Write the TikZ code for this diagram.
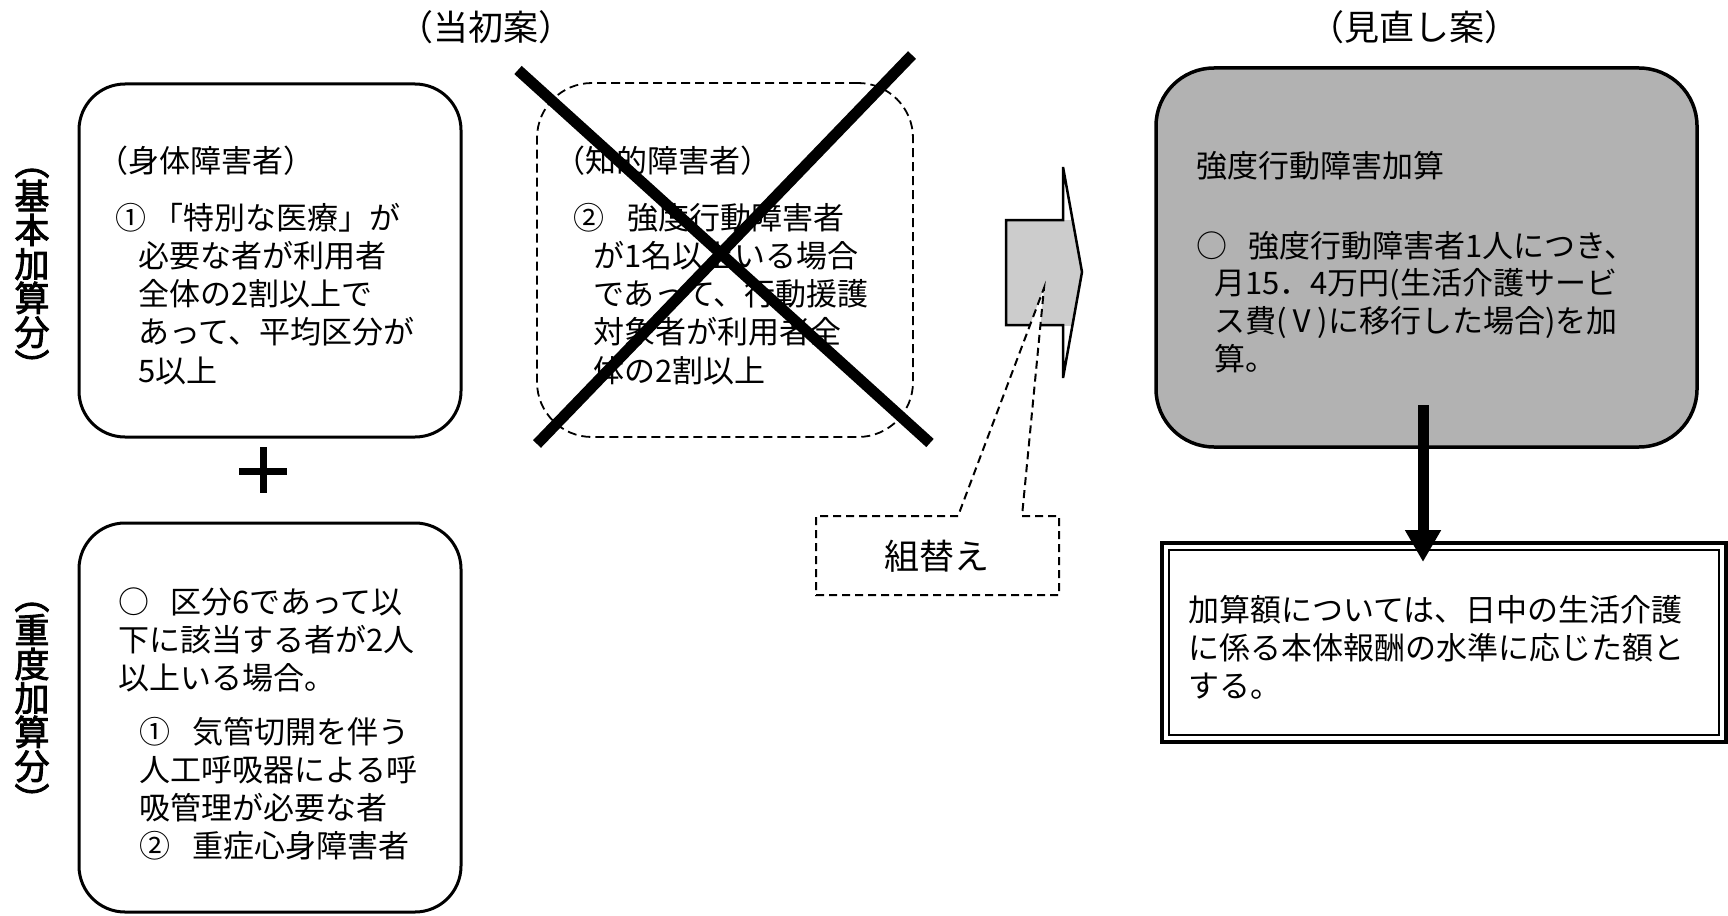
\documentclass[tikz,border=0pt]{standalone}
\usepackage{fontspec}
\setmainfont{Noto Sans CJK JP}
\newfontfamily\jp{Noto Sans CJK JP}
\newfontfamily\jpb{Noto Sans CJK JP}[FakeBold=2.5]
\usetikzlibrary{arrows.meta}
\begin{document}
\begin{tikzpicture}[x=1pt,y=-1pt,
  rbox/.style={draw, line width=3pt, rounded corners=46pt, inner sep=0pt},
  dbox/.style={draw, line width=1.8pt, dash pattern=on 9pt off 5pt, rounded corners=55pt, inner sep=0pt},
  gbox/.style={draw, line width=3.5pt, fill=black!30, rounded corners=58pt, inner sep=0pt},
  txt/.style={font=\jp\fontsize{31pt}{38.3pt}\selectfont, align=left, anchor=base west, inner sep=0pt},
  ttl/.style={font=\jp\fontsize{35pt}{40pt}\selectfont, anchor=base, inner sep=0pt},
  vlbl/.style={font=\jpb\fontsize{35pt}{34pt}\selectfont, align=center, inner sep=0pt},
  cross/.style={line width=11pt},
  calldash/.style={line width=2pt, dash pattern=on 8pt off 5pt}
]
\path[fill=white, use as bounding box] (0,0) rectangle (1728,915);

% titles
\node[ttl] (ttl1) at (486,41) {（当初案）};
\node[ttl] (ttl2) at (1414,41) {（見直し案）};

% vertical labels
\node[vlbl] (v1) at (32,274) {︵\\基\\本\\加\\算\\分\\︶};
\node[vlbl] (v2) at (32,708) {︵\\重\\度\\加\\算\\分\\︶};

% box 1
\node[rbox, minimum width=382pt, minimum height=353pt] (b1) at (270,260.5) {};
\node[txt] (t1h) at (97,172) {（身体障害者）};
\node[txt] (t1) at (115,382.2) {①\hspace{6pt}「特別な医療」が\\
\hspace*{23pt}必要な者が利用者\\
\hspace*{23pt}全体の2割以上で\\
\hspace*{23pt}あって、平均区分が\\
\hspace*{23pt}5以上};

% plus
\draw[line width=7pt] (239,471) -- (287,471);
\draw[line width=7pt] (263,447) -- (263,493);

% box 3
\node[rbox, minimum width=382pt, minimum height=389pt] (b3) at (270,717.5) {};
\node[txt, font=\jp\fontsize{31pt}{38pt}\selectfont] (t3a) at (118,689) {○\hspace{21pt}区分6であって以\\
下に該当する者が2人\\
以上いる場合。};
\node[txt] (t3b) at (139,857.9) {①\hspace{22pt}気管切開を伴う\\
人工呼吸器による呼\\
吸管理が必要な者\\
②\hspace{22pt}重症心身障害者};

% box 2 (dashed, crossed out)
\node[dbox, minimum width=376pt, minimum height=354pt] (b2) at (725,260) {};
\node[txt] (t2h) at (554,172) {（知的障害者）};
\node[txt] (t2) at (573,382.2) {②\hspace{23pt}強度行動障害者\\
\hspace*{20pt}が1名以上いる場合\\
\hspace*{20pt}であって、行動援護\\
\hspace*{20pt}対象者が利用者全\\
\hspace*{20pt}体の2割以上};
\coordinate (xa1) at (518,70);
\coordinate (xa2) at (930,443);
\coordinate (xb1) at (912,55);
\coordinate (xb2) at (537,444);
\draw[cross] (xa1) -- (xa2);
\draw[cross] (xb1) -- (xb2);

% block arrow
\begin{scope}
\clip (1000,220) rectangle (1090,325);
\fill[black!20] (1006,220) -- (1063,220) -- (1063,167) -- (1082,272) -- (1063,378) -- (1063,325) -- (1006,325) -- cycle;
\end{scope}
\draw[line width=2.5pt, line join=miter] (1006,220) -- (1063,220) -- (1063,167) -- (1082,272) -- (1063,378) -- (1063,325) -- (1006,325) -- cycle;

% callout
\draw[calldash, fill=white] (958,516) -- (816,516) -- (816,595) -- (1059,595) -- (1059,516) -- (1022,516) -- (1044,288) -- cycle;
\node[ttl] (ct) at (937,569) {組替え};

% grey box
\node[gbox, minimum width=541pt, minimum height=379pt] (gb) at (1426.5,257.5) {};
\node[txt] (g1) at (1196,177) {強度行動障害加算};
\node[txt, font=\jp\fontsize{31pt}{37.7pt}\selectfont] (g2) at (1196,370.1) {○\hspace{21pt}強度行動障害者1人につき、\\
\hspace*{18pt}月15．4万円(生活介護サービ\\
\hspace*{18pt}ス費(Ⅴ)に移行した場合)を加\\
\hspace*{18pt}算。};

% bottom box (double border)
\node[draw, line width=4pt, minimum width=564pt, minimum height=199pt, inner sep=0pt] (bb) at (1444,642.5) {};
\node[draw, line width=1.5pt, minimum width=550pt, minimum height=185pt, inner sep=0pt] (bbi) at (1444,642.5) {};
\node[txt] (bt) at (1188,697.6) {加算額については、日中の生活介護\\
に係る本体報酬の水準に応じた額と\\
する。};

% thick arrow
\coordinate (as) at (1423,405);
\coordinate (ae) at (1423,562);
\draw[line width=11pt, -{Triangle[width=34pt,length=32pt]}] (as) -- (ae);
\end{tikzpicture}
\end{document}
